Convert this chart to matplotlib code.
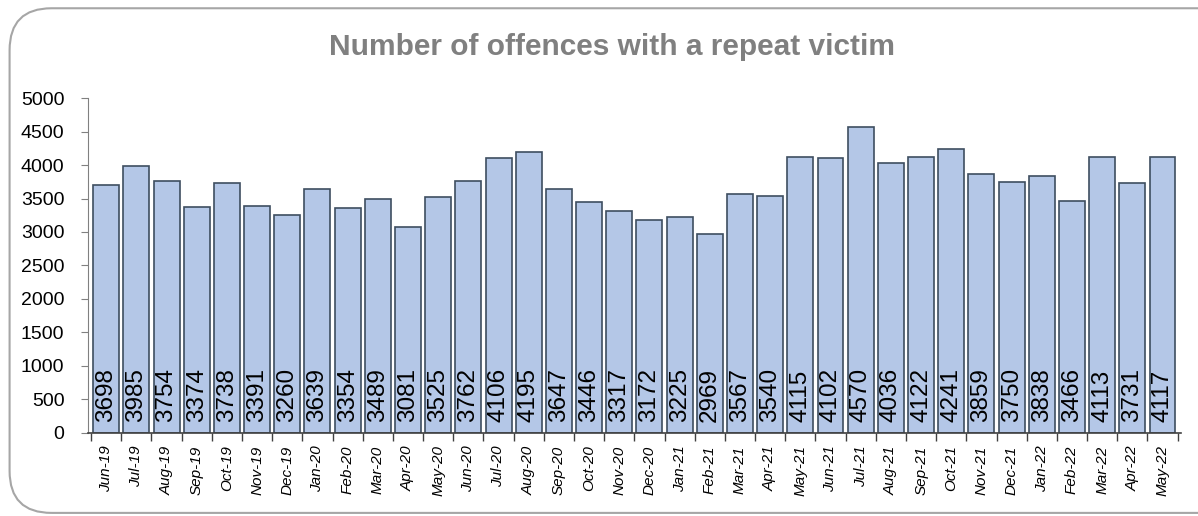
import numpy as np
import matplotlib
matplotlib.use("Agg")
import matplotlib.pyplot as plt
from matplotlib.patches import FancyBboxPatch

plt.rcParams['font.family'] = ['Liberation Sans', 'DejaVu Sans']

# monthly data
months = ['Jun-19', 'Jul-19', 'Aug-19', 'Sep-19', 'Oct-19', 'Nov-19', 'Dec-19',
          'Jan-20', 'Feb-20', 'Mar-20', 'Apr-20', 'May-20', 'Jun-20', 'Jul-20',
          'Aug-20', 'Sep-20', 'Oct-20', 'Nov-20', 'Dec-20', 'Jan-21', 'Feb-21',
          'Mar-21', 'Apr-21', 'May-21', 'Jun-21', 'Jul-21', 'Aug-21', 'Sep-21',
          'Oct-21', 'Nov-21', 'Dec-21', 'Jan-22', 'Feb-22', 'Mar-22', 'Apr-22',
          'May-22']
offences = [3698, 3985, 3754, 3374, 3738, 3391, 3260, 3639, 3354, 3489, 3081,
            3525, 3762, 4106, 4195, 3647, 3446, 3317, 3172, 3225, 2969, 3567,
            3540, 4115, 4102, 4570, 4036, 4122, 4241, 3859, 3750, 3838, 3466,
            4113, 3731, 4117]
yticks = list(range(0, 5001, 500))

fig = plt.figure(figsize=(11.98, 5.16), dpi=100)

# rounded chart border
border = FancyBboxPatch((0.008, 0.006), 1.05, 0.978,
                        boxstyle="round,pad=0,rounding_size=0.035",
                        transform=fig.transFigure, facecolor='none',
                        edgecolor='#A6A6A6', linewidth=1.5, zorder=-1,
                        mutation_aspect=1198 / 516)
fig.patches.append(border)

ax = fig.add_axes([0.0735, 0.161, 0.912, 0.649])
ax.patch.set_alpha(0)

x = np.arange(len(months))
ax.bar(x, offences, width=0.86, color='#B4C7E7', edgecolor='#3E4E60',
       linewidth=1.2, zorder=2)

# values written inside bars
for xi, v in zip(x, offences):
    ax.text(xi, 170, str(v), rotation=90, ha='center', va='bottom',
            fontsize=17.5, color='black', zorder=3)

ax.set_xlim(-0.6, len(months) - 0.4)
ax.set_ylim(0, 5000)
ax.set_yticks(yticks)
ax.set_yticklabels([str(t) for t in yticks], fontsize=14)

ax.set_xticks(x)
ax.set_xticklabels(months, rotation=90, fontsize=11, style='italic')
ax.set_xticks(np.arange(-0.5, len(months)), minor=True)
ax.tick_params(axis='x', which='major', length=0, pad=9)
ax.tick_params(axis='x', which='minor', length=6, color='#404040', width=1)
ax.tick_params(axis='y', length=5, color='#808080', pad=12)

for s in ['top', 'right']:
    ax.spines[s].set_visible(False)
ax.spines['left'].set_color('#808080')
ax.spines['bottom'].set_color('#404040')
ax.spines['bottom'].set_linewidth(1.2)

fig.text(0.511, 0.908, 'Number of offences with a repeat victim',
         ha='center', va='center', fontsize=21.5, fontweight='bold',
         color='#808080')

fig.savefig('out.png', dpi=100)
